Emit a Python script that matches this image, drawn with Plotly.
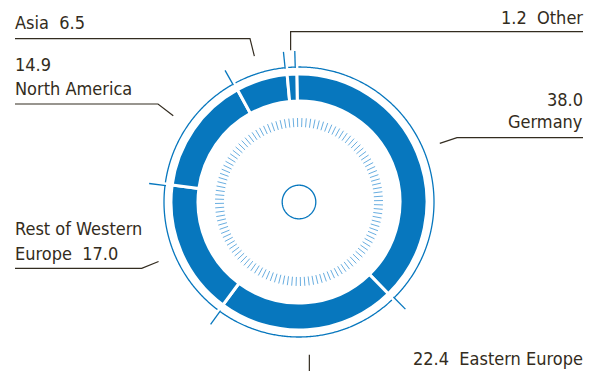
import numpy as np
import plotly.graph_objects as go

# Sales by region, % (clockwise from 12 o'clock)
regions = ["Germany", "Eastern Europe", "Rest of Western Europe", "North America", "Asia", "Other"]
shares = [38.0, 22.4, 17.0, 14.9, 6.5, 1.2]

W, H = 597, 371
CX, CY = 299, 202        # ring centre in px (from top-left)
R = 160                  # polar radius in px, radial axis runs 0..R in px
ROT = -1.0               # small angular offset of the whole ring

BLUE = "#0777be"
LIGHT = "#6aaee0"
INK = "#332c20"
FONT = "DejaVu Sans Condensed, Roboto, sans-serif"
FS = 18

shares_a = np.array(shares)
widths = shares_a * 3.6
starts = np.concatenate([[0.0], np.cumsum(widths)[:-1]])
mids = starts + widths / 2
bounds = starts  # segment boundaries (start of each segment)

fig = go.Figure()

# main ring
fig.add_trace(go.Barpolar(
    r=[27] * len(shares), base=101, theta=mids, width=widths,
    marker=dict(color=BLUE, line=dict(color="white", width=3)),
    hoverinfo="skip",
))

# thin outer circle, broken at every boundary
gap = np.degrees(1.7 / 135)
ot, orr = [], []
for s, w in zip(starts, widths):
    t = np.linspace(s + gap, s + w - gap, max(int(w * 2), 4))
    ot += list(t) + [None]
    orr += [135] * len(t) + [None]
fig.add_trace(go.Scatterpolar(r=orr, theta=ot, mode="lines",
                              line=dict(color=BLUE, width=1.3), hoverinfo="skip"))

# boundary ticks
tt, tr = [], []
for b in bounds:
    tt += [b - 0.6, b - 0.6, None]
    tr += [134, 151, None]
fig.add_trace(go.Scatterpolar(r=tr, theta=tt, mode="lines",
                              line=dict(color=BLUE, width=1.3), hoverinfo="skip"))

# inner dial ticks
dt, dr = [], []
for k in range(120):
    a = k * 3.0
    dt += [a, a, None]
    dr += [75, 84, None]
fig.add_trace(go.Scatterpolar(r=dr, theta=dt, mode="lines",
                              line=dict(color=LIGHT, width=1), hoverinfo="skip"))

# centre circle
ct = np.linspace(0, 360, 121)
fig.add_trace(go.Scatterpolar(r=[16.8] * len(ct), theta=ct, mode="lines",
                              line=dict(color=BLUE, width=1.3), hoverinfo="skip"))


def to_px(angle, r):
    a = np.radians(angle + ROT)
    return CX + r * np.sin(a), CY - r * np.cos(a)


# leader lines: start at the segment's mid-angle, then elbow to the label
mid_of = dict(zip(regions, mids))
leaders = {
    "Germany": [(457, 137.7), (583, 137.7)],
    "Rest of Western Europe": [(141.7, 268.3), (15, 268.3)],
    "North America": [(158, 104), (15, 104)],
    "Asia": [(250, 38.7), (15, 38.7)],
}
for name, pts in leaders.items():
    x0, y0 = to_px(mid_of[name], 152.5)
    xs = [x0] + [p[0] for p in pts]
    ys = [y0] + [p[1] for p in pts]
    fig.add_trace(go.Scatter(x=xs, y=ys, mode="lines", xaxis="x", yaxis="y",
                             line=dict(color=INK, width=1.2), hoverinfo="skip"))

x0, y0 = to_px(mid_of["Other"], 152)
fig.add_trace(go.Scatter(x=[x0, x0, 583], y=[y0, 31.7, 31.7], mode="lines",
                         line=dict(color=INK, width=1.2), hoverinfo="skip"))
x0, y0 = to_px(mid_of["Eastern Europe"], 153)
fig.add_trace(go.Scatter(x=[x0, x0], y=[y0, H], mode="lines",
                         line=dict(color=INK, width=1.2), hoverinfo="skip"))

val = {n: f"{v:.1f}" for n, v in zip(regions, shares)}
sp = "\u00a0\u00a0"
LX, RX = 13, 585
labels = [
    (f"Asia{sp}{val['Asia']}", LX, 22, "left"),
    (val["North America"], LX, 64.5, "left"),
    ("North America", LX, 88.5, "left"),
    (f"{val['Other']}{sp}Other", RX, 17, "right"),
    (val["Germany"], RX, 99.7, "right"),
    ("Germany", RX, 121.5, "right"),
    ("Rest of Western", LX, 228.3, "left"),
    (f"Europe{sp}{val['Rest of Western Europe']}", LX, 253, "left"),
    (f"{val['Eastern Europe']}{sp}Eastern Europe", RX, 358.3, "right"),
]
for text, x, y, anchor in labels:
    fig.add_annotation(x=x, y=y, xref="x", yref="y", text=text, showarrow=False,
                       xanchor=anchor, yanchor="middle",
                       font=dict(family=FONT, size=FS, color=INK))

fig.update_layout(
    width=W, height=H,
    margin=dict(l=0, r=0, t=0, b=0),
    paper_bgcolor="white", plot_bgcolor="rgba(0,0,0,0)",
    showlegend=False,
    polar=dict(
        domain=dict(x=[(CX - R) / W, (CX + R) / W],
                    y=[(H - CY - R) / H, (H - CY + R) / H]),
        bgcolor="rgba(0,0,0,0)",
        hole=0,
        radialaxis=dict(range=[0, R], visible=False, showgrid=False),
        angularaxis=dict(rotation=90 - ROT, direction="clockwise", visible=False,
                         showgrid=False, showline=False, ticks=""),
    ),
    xaxis=dict(domain=[0, 1], range=[0, W], visible=False, fixedrange=True),
    yaxis=dict(domain=[0, 1], range=[H, 0], visible=False, fixedrange=True),
)

fig.write_html("out.html")
